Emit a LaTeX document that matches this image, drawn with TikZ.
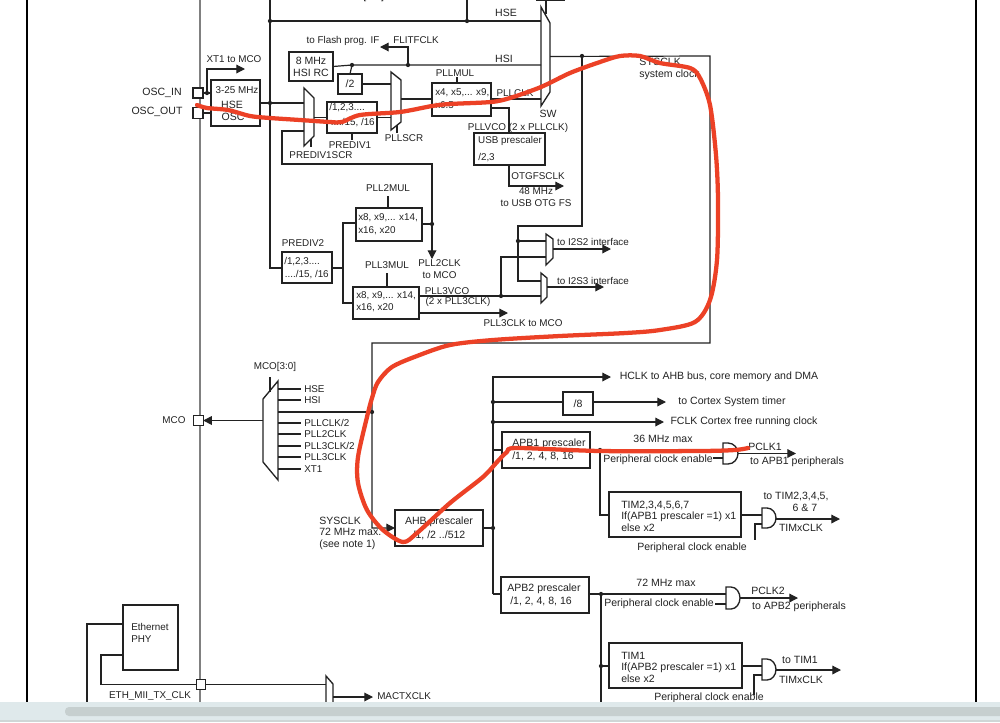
\documentclass[tikz,border=0pt]{standalone}
\usepackage{fontspec}
\setmainfont{Liberation Sans}
\usetikzlibrary{arrows.meta}
\definecolor{ink}{HTML}{222222}
\definecolor{pen}{HTML}{EC4126}
\definecolor{barbg}{HTML}{DFE9EB}
\definecolor{barth}{HTML}{C6CFCF}
\tikzset{
  wire/.style={draw=ink,line width=.9pt},
  arr/.style={wire,-{Triangle[length=6.5pt,width=6.5pt]}},
  boxn/.style={draw=ink,line width=1pt,inner sep=0pt,outer sep=0pt,text=ink,align=center,font=\fontsize{7.9}{9}\selectfont},
  lbl/.style={inner sep=0pt,text=ink,align=center,font=\fontsize{7.9}{8.6}\selectfont},
  sm/.style={font=\fontsize{7.4}{8.6}\selectfont},
  dot/.style={circle,fill=ink,inner sep=0pt,minimum size=3.2pt,outer sep=0pt},
  padn/.style={draw=ink,fill=white,line width=.8pt,inner sep=0pt,outer sep=0pt},
}
\newcommand\bx[6]{\node[boxn,minimum width={(#4-#2)*.75pt},minimum height={(#5-#3)*.75pt}] (#1) at ({(#2+#4)/2},{(#3+#5)/2}) {#6};}
\newcommand\T[5][]{\node[lbl,#1] (#2) at (#3,#4) {#5};}
\newcommand\C[3]{\coordinate (#1) at (#2,#3);}
\newcommand\D[3]{\node[dot] (#1) at (#2,#3) {};}
% name x1 x2 yl1 yr1 yr2 yl2
\newcommand\mux[7]{\draw[wire,line width=1pt] (#2,#4)--(#3,#5)--(#3,#6)--(#2,#7)--cycle;
  \coordinate (#1-w) at (#2,{(#4+#7)/2}); \coordinate (#1-e) at (#3,{(#4+#7)/2});}
% name x1 xm x2 y1 y2
\newcommand\gate[6]{\draw[wire,line width=1pt] (#2,#5)--(#3,#5) .. controls ({#3+.6*(#4-#3)},#5) and (#4,{#5+.25*(#6-#5)}) .. (#4,{(#5+#6)/2}) .. controls (#4,{#5+.75*(#6-#5)}) and ({#3+.6*(#4-#3)},#6) .. (#3,#6)--(#2,#6)--cycle;
  \coordinate (#1-w) at (#2,{(#5+#6)/2}); \coordinate (#1-e) at (#4,{(#5+#6)/2});}
\begin{document}
\begin{tikzpicture}[x=.75pt,y=-.75pt]
\clip (0,0) rectangle (1000,722);
\fill[white] (0,0) rectangle (1000,722);
% frame lines
\C{fl1}{27}{0}\C{fl2}{27}{703}\C{fr1}{976}{0}\C{fr2}{976}{703}
\draw[draw=black,line width=.9pt] (fl1)--(fl2) (fr1)--(fr2);
\C{pl1}{200}{0}\C{pl2}{200}{703}
\draw[draw=gray,line width=.85pt] (pl1)--(pl2);
% oscillators
\node[padn,minimum width=7.5pt,minimum height=7.5pt] (padin) at (198,93) {};
\node[padn,minimum width=7.5pt,minimum height=8pt] (padout) at (198,113) {};
\T{oscin}{162}{93}{OSC\_IN}
\T{oscout}{157}{112}{OSC\_OUT}
\bx{hse}{211}{80}{260}{126}{}
\T[sm]{hsea}{237}{90}{3-25 MHz}
\T{hseb}{232}{105}{HSE}
\T{hsec}{233}{117}{OSC}
\D{xt}{207}{93}
\C{xttip}{245}{69}
\T[sm]{xtl}{234}{59}{XT1 to MCO}
\draw[wire] (padin.east)--(padin.east -| hse.west);
\draw[wire] (padout.east)--(padout.east -| hse.west);
\draw[arr] (xt) |- (xttip);
% trunk
\C{t270}{270}{0}\C{t467}{467}{0}
\D{d21}{270}{21}\D{d467}{467}{21}\D{d103}{270}{103}
\mux{sw}{541}{550}{7}{23}{92}{106}
\T{swl}{548}{114}{SW}
\draw[wire] (t467)--(d467);
\draw[wire] (d21)--(d467)--(d467 -| sw-w);
\T{hsel}{506}{13}{HSE}
\T{topl}{353}{-3.5}{RTCSEL[1:0]}
\C{swb1}{536}{.5}\C{swb2}{565}{.5}\C{swt1}{546}{.5}\C{swt2}{546}{14}
\draw[wire] (swb1)--(swb2) (swt1)--(swt2);
% HSI
\bx{hsi}{289}{52}{333}{81}{8 MHz\\HSI RC}
\D{d352}{352}{65}\D{d408}{408}{65}
\draw[wire] (hsi.east)--(d352)--(d408)--(d408 -| sw-w);
\T{hsil}{504}{59}{HSI}
\bx{div2}{338}{74}{362}{94}{/2}
\draw[wire] (d352)--(div2.north);
\C{flc}{408}{47}\C{fltip}{380}{47}
\draw[arr] (d408)--(flc)--(fltip);
\T[sm]{fl}{343}{41}{to Flash prog. IF}
\T[sm]{flit}{416}{40}{FLITFCLK}
% PLLSCR etc.
\mux{mpre}{304}{314}{88}{98}{136}{146}
\mux{mpll}{391}{401}{72}{80}{122}{130}
\C{msel1}{311}{139}\C{msel1b}{311}{147}
\C{msel2}{397}{125}\C{msel2b}{397}{133}
\draw[wire] (msel1)--(msel1b) (msel2)--(msel2b);
\T[sm]{lsel1}{321}{155}{PREDIV1SCR}
\T[sm]{lsel2}{404}{138}{PLLSCR}
\bx{pre1}{327}{102}{377}{133}{}
\T[anchor=west,sm]{pre1a}{329}{108}{/1,2,3....}
\T[anchor=east,sm]{pre1b}{375}{123}{..../15, /16}
\T[sm]{pre1l}{350}{145}{PREDIV1}
\draw[wire] (pre1.south)--++(0,7);
\draw[wire] (hse.east |- d103)--(d103)--(d103 -| mpre-w);
\draw[wire] (mpre-e |- pre1.west)--(pre1.west);
\draw[wire] (pre1.east)--(pre1.east -| mpll-w);
\draw[wire] (div2.east)--(div2.east -| mpll-w);
% PLLMUL
\bx{pllm}{432}{83}{491}{116}{}
\T[anchor=west,sm]{pllma}{435}{93}{x4, x5,... x9,}
\T[anchor=west,sm]{pllmb}{435}{105}{x6.5}
\T[sm]{pllml}{455}{73}{PLLMUL}
\C{pllmt}{457}{77}
\draw[wire] (pllmt)--(pllmt |- pllm.north);
\C{m99}{401}{99}
\draw[wire] (m99)--(m99 -| pllm.west);
\C{pc}{491}{99}
\draw[wire] (pc)--(pc -| sw-w);
\T[sm]{pllcl}{515}{93}{PLLCLK}
\T[sm]{vcol}{518}{128}{PLLVCO (2 x PLLCLK)}
\bx{usb}{474}{133}{545}{165}{}
\T[sm]{usba}{510}{141}{USB prescaler}
\T[anchor=west,sm]{usbb}{478}{158}{/2,3}
\C{v1}{491}{108}\C{v2}{509}{108}
\draw[wire] (v1)--(v2)--(v2 |- usb.north);
\C{ot1}{509}{165}\C{ot2}{509}{186}\C{ot3}{564}{186}
\draw[arr] (ot1)--(ot2)--(ot3);
\T[sm]{otl}{538}{176}{OTGFSCLK}
\T[sm]{otm}{536}{197}{48 MHz\\to USB OTG FS}
% system clock
\C{r1}{710}{56}\C{r2}{710}{343}\C{r3}{372}{343}\C{r4}{372}{528}
\D{d582}{582}{56}\D{d372}{372}{412}
\bx{ahb}{395}{510}{483}{546}{}
\T{ahba}{439}{522}{AHB prescaler}
\T{ahbb}{439}{535}{/1, /2 ../512}
\draw[arr,shorten >=0pt] (sw-e)--(r1)--(r2)--(r3)--(r4)--(r4 -| ahb.west);
\T[anchor=west,align=left]{sys}{639}{69}{SYSCLK\\system clock}
\T[anchor=west,align=left]{sysl}{319}{533}{SYSCLK\\72 MHz max.\\(see note 1)}
% loop & PLL2/3
\C{lp0}{304}{131}\C{lp1}{282}{131}\C{lp2}{282}{164}\C{lp3}{432}{164}\C{lp4}{432}{259}
\D{d224}{432}{224}
\draw[arr] (lp0)--(lp1)--(lp2)--(lp3)--(lp4);
\T[sm]{p2cl}{439.5}{269}{PLL2CLK\\to MCO}
\bx{pre2}{282}{252}{332}{283}{}
\T[anchor=west,sm]{pre2a}{284}{262}{/1,2,3....}
\T[anchor=east,sm]{pre2b}{329}{275}{..../15, /16}
\T[sm]{pre2l}{303}{243}{PREDIV2}
\C{tr2}{270}{268}
\draw[wire] (t270)--(tr2)--(tr2 -| pre2.west);
\bx{p2m}{356}{208}{422}{241}{}
\T[anchor=west,sm]{p2a}{358}{218}{x8, x9,... x14,}
\T[anchor=west,sm]{p2b}{358}{231}{x16, x20}
\T[sm]{p2l}{388}{188}{PLL2MUL}
\C{p2t}{388}{196}\draw[wire] (p2t)--(p2t |- p2m.north);
\bx{p3m}{353}{287}{419}{319}{}
\T[anchor=west,sm]{p3a}{356}{296}{x8, x9,... x14,}
\T[anchor=west,sm]{p3b}{356}{308}{x16, x20}
\T[sm]{p3l}{387}{265}{PLL3MUL}
\C{p3t}{387}{273}\draw[wire] (p3t)--(p3t |- p3m.north);
\C{b1}{343}{268}\C{b2}{343}{223}\C{b3}{343}{303}
\draw[wire] (pre2.east |- b1)--(b1);
\draw[wire] (b2 -| p2m.west)--(b2)--(b3)--(b3 -| p3m.west);
\draw[wire] (d224 -| p2m.east)--(d224);
% I2S
\mux{mi2}{546}{553}{234}{239}{258}{265}
\mux{mi3}{541}{547}{273}{278}{297}{303}
\D{d501}{501}{296}\D{d518}{518}{241}
\C{q296}{419}{296}
\draw[wire] (q296)--(d501)--(d501 -| mi3-w);
\C{q257}{501}{257}
\draw[wire] (d501)--(q257)--(q257 -| mi2-w);
\C{q226}{582}{226}\C{q2262}{518}{226}\C{q281}{518}{281}
\draw[wire] (d582)--(q226)--(q2262)--(q281)--(q281 -| mi3-w);
\draw[wire] (d518)--(d518 -| mi2-w);
\C{i2a}{553}{249}\C{i2b}{611}{249}\C{i3a}{547}{287}\C{i3b}{604}{287}
\draw[arr] (i2a)--(i2b);
\draw[arr] (i3a)--(i3b);
\T[sm]{i2l}{593}{242}{to I2S2 interface}
\T[sm]{i3l}{593}{281}{to I2S3 interface}
\T[sm]{p3v}{447}{291}{PLL3VCO}
\T[sm]{p3c}{458}{302}{(2 x PLL3CLK)}
\C{p3o}{419}{313}\C{p3tip}{508}{313}
\draw[arr] (p3o)--(p3tip);
\T[sm]{p3ml}{523}{323}{PLL3CLK to MCO}
% MCO
\mux{mco}{263}{278}{399}{381}{480}{462}
\node[padn,minimum width=7pt,minimum height=7pt] (padm) at (198.5,420.5) {};
\T[sm]{mcol}{174}{420}{MCO}
\C{mcoa}{263}{420.5}
\draw[arr] (mcoa)--(padm.east);
\T[sm]{mcos}{275}{367}{MCO[3:0]}
\C{ms1}{270}{377}\C{ms2}{270}{392}\draw[wire] (ms1)--(ms2);
\foreach \nm/\yy/\tx in {a/389/HSE,b/400/HSI,d/423/PLLCLK\slash 2,e/434/PLL2CLK,f/446/PLL3CLK\slash 2,g/457/PLL3CLK,h/469/XT1}{
  \coordinate (mi\nm) at (278,\yy);
  \coordinate (mj\nm) at (301,\yy);
  \draw[wire] (mi\nm)--(mj\nm);
  \node[lbl,sm,anchor=west] (ml\nm) at (304,\yy) {\tx};
}
\C{mic}{278}{412}\draw[wire] (mic)--(d372);
% AHB outputs
\D{d528}{493}{528}\D{d402}{493}{402}\D{d422}{493}{422}
\C{h1}{493}{377}\C{h2}{611}{377}\C{h3}{493}{594}
\draw[arr] (h3)--(h1)--(h2);
\draw[wire] (ahb.east |- d528)--(d528);
\T{hcl}{719}{377}{HCLK to AHB bus, core memory and DMA}
\bx{d8}{563}{392}{593}{415}{/8}
\draw[wire] (d402)--(d402 -| d8.west);
\C{s1}{593}{402}\C{s2}{666}{402}\draw[arr] (s1)--(s2);
\T{stl}{732}{402}{to Cortex System timer}
\C{fc}{664}{422}\draw[arr] (d422)--(fc);
\T{fcl}{744}{422}{FCLK Cortex free running clock}
% APB1
\bx{apb1}{502}{432}{590}{468}{}
\T{apa}{549}{444}{APB1 prescaler}
\T{apb}{543}{456}{/1, 2, 4, 8, 16}
\C{a0}{493}{450}\draw[wire] (a0)--(a0 -| apb1.west);
\D{d600}{600}{450}
\gate{g1}{723}{728}{738}{443}{464}
\draw[wire] (apb1.east |- d600)--(d600)--(d600 -| g1-w);
\C{g1o}{738}{453.5}\C{g1t}{796}{453.5}\draw[arr] (g1o)--(g1t);
\C{g1i}{713}{458}\draw[wire] (g1i)--(g1i -| g1-w);
\T{m36}{663}{439}{36 MHz max}
\T{pce1}{658}{460}{Peripheral clock enable}
\T{pc1}{765}{447}{PCLK1}
\T{to1}{797}{462}{to APB1 peripherals}
\bx{tim2}{609}{492}{741}{537}{}
\T[anchor=west,align=left]{tim2t}{621}{516}{\fontsize{7.9}{12}\selectfont TIM2,3,4,5,6,7\\If(APB1 prescaler =1) x1\\else x2}
\C{v515}{600}{515}\draw[wire] (d600)--(v515)--(v515 -| tim2.west);
\gate{g2}{762}{767}{776}{508}{528}
\C{g2a}{741}{515}\draw[wire] (g2a)--(g2a -| g2-w);
\C{g2o}{776}{519}\C{g2t}{840}{519}\draw[arr] (g2o)--(g2t);
\C{g2i}{755}{524}\C{g2j}{755}{540}\draw[wire] (g2i -| g2-w)--(g2i)--(g2j);
\T{pce2}{692}{548}{Peripheral clock enable}
\T{tt1}{796}{496}{to TIM2,3,4,5,}
\T{tt2}{805}{508}{6 \& 7}
\T{tt3}{801}{528}{TIMxCLK}
% APB2
\bx{apb2}{501}{577}{589}{613}{}
\T{apc}{544}{589}{APB2 prescaler}
\T{apd}{541}{601}{/1, 2, 4, 8, 16}
\draw[wire] (h3)--(h3 -| apb2.west);
\D{d601}{601}{594}\D{d666}{601}{666}
\gate{g3}{726}{731}{740}{587}{609}
\draw[wire] (apb2.east |- d601)--(d601)--(d601 -| g3-w);
\C{g3o}{740}{598}\C{g3t}{798}{598}\draw[arr] (g3o)--(g3t);
\C{g3i}{715}{604}\draw[wire] (g3i)--(g3i -| g3-w);
\T{m72}{666}{583}{72 MHz max}
\T{pce3}{659}{604}{Peripheral clock enable}
\T{pc2}{768}{591}{PCLK2}
\T{to2}{799}{607}{to APB2 peripherals}
\bx{tim1}{609}{643}{742}{688}{}
\T[anchor=west,align=left]{tim1t}{621}{667}{\fontsize{7.9}{12}\selectfont TIM1\\If(APB2 prescaler =1) x1\\else x2}
\C{e601}{601}{703}\draw[wire] (d601)--(e601);
\draw[wire] (d666)--(d666 -| tim1.west);
\gate{g4}{762}{767}{776}{659}{680}
\C{g4a}{742}{666}\draw[wire] (g4a)--(g4a -| g4-w);
\C{g4o}{776}{670}\C{g4t}{841}{670}\draw[arr] (g4o)--(g4t);
\C{g4i}{754}{675}\C{g4j}{754}{695}\draw[wire] (g4i -| g4-w)--(g4i)--(g4j);
\T{pce4}{709}{698}{Peripheral clock enable}
\T{tt4}{800}{660}{to TIM1}
\T{tt5}{801}{680}{TIMxCLK}
% Ethernet
\bx{eth}{123}{605}{178}{670}{}
\T[anchor=west,align=left,sm]{etht}{131}{633}{Ethernet\\PHY}
\C{e1}{123}{624}\C{e2}{87}{624}\C{e3}{87}{703}
\draw[wire] (e1)--(e2)--(e3);
\node[padn,minimum width=7pt,minimum height=7pt] (pade) at (201,684.5) {};
\C{e4}{123}{655}\C{e5}{101}{655}\C{e6}{101}{684.5}\C{e7}{326}{684.5}
\draw[wire] (e4)--(e5)--(e6)--(pade.west);
\draw[wire] (pade.east)--(e7);
\T[sm]{ethl}{150}{696}{ETH\_MII\_TX\_CLK}
\C{mt1}{326}{703}\C{mt2}{326}{676}\C{mt3}{333}{684}\C{mt4}{333}{703}
\draw[wire,line width=1pt] (mt1)--(mt2)--(mt3)--(mt4);
\C{ma}{333}{697}\C{mb}{373}{697}\draw[arr] (ma)--(mb);
\T[anchor=west,sm]{macl}{377}{696}{MACTXCLK}
% red scribble
\draw[pen,line width=3.2pt,line join=round,line cap=round] plot[smooth,tension=.5] coordinates {
(197,105)(207,108)(228,110)(250,116)(270,118)(300,120)(330,122)(342,122)(360,115)(400,112)(432,106)(450,104)(491,102)(510,98)(541,87)(570,73)(600,62)(620,56)(640,56)(660,63)(690,68)(700,78)(710,105)(716,155)(718,200)(717,260)(710,300)(695,322)(660,330)(626,333)(560,336)(493,340)(450,345)(417,356)(392,367)(378,382)(372,398)(367,417)(358,457)(358,483)(367,510)(383,530)(403,542)(417,533)(450,503)(483,477)(497,462)(507,452)(517,448)(600,451)(700,451)(735,450)(748,448)};
% scrollbar
\fill[barbg] (0,702) rectangle (1000,722);
\fill[barth,rounded corners=3pt] (65,707) rectangle (1010,716);
\fill[barth!85!white] (0,720) rectangle (1000,722);
\end{tikzpicture}
\end{document}
